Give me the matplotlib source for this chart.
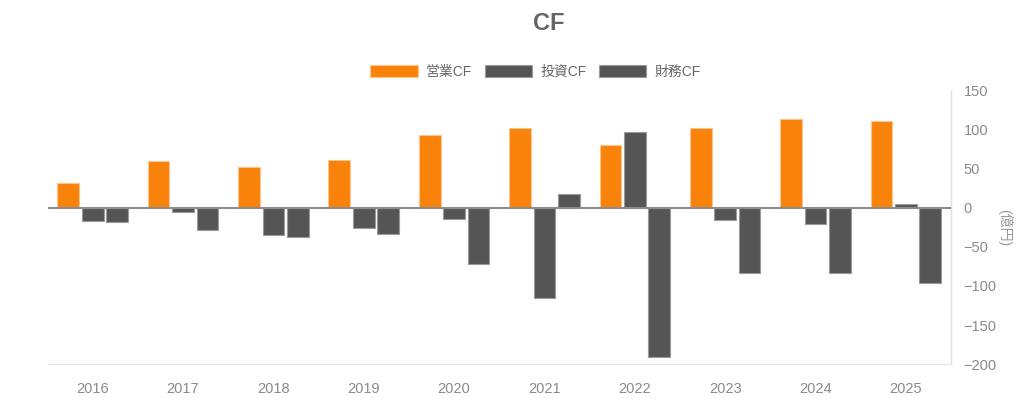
import numpy as np
import matplotlib as mpl
mpl.use("Agg")
import matplotlib.pyplot as plt
from matplotlib.patches import Patch

plt.rcParams["font.family"] = ["Liberation Sans", "Noto Sans CJK JP", "DejaVu Sans"]

YEARS = ["2016", "2017", "2018", "2019", "2020", "2021", "2022", "2023", "2024", "2025"]
OPERATING = [32, 60, 53, 61, 93, 103, 81, 102, 114, 112]
INVESTING = [-17, -5, -35, -26, -14, -116, 97, -16, -20, 5]
FINANCING = [-18, -28, -37, -33, -72, 18, -191, -83, -83, -96]

SERIES = ["営業CF", "投資CF", "財務CF"]
COLORS = {"営業CF": "#F9820B", "投資CF": "#555555", "財務CF": "#555555"}
EDGES = {"営業CF": "#FDC58E", "投資CF": "#9A9A9A", "財務CF": "#9A9A9A"}


def main():
    fig = plt.figure(figsize=(10.24, 3.99), dpi=100)
    ax = fig.add_axes([0.0464, 0.0877, 0.8823, 0.6843])

    x = np.arange(len(YEARS))
    width = 0.24
    pitch = 0.27
    for i, (name, vals) in enumerate(zip(SERIES, [OPERATING, INVESTING, FINANCING])):
        ax.bar(x + (i - 1) * pitch, vals, width=width, color=COLORS[name],
               edgecolor=EDGES[name], linewidth=0.8, zorder=2)

    ax.axhline(0, color="#8C8C8C", linewidth=1.5, zorder=3)

    ax.set_xlim(-0.5, len(YEARS) - 0.5)
    ax.set_ylim(-200, 150)
    ax.set_xticks(x)
    ax.set_xticklabels(YEARS)
    ax.set_yticks(np.arange(-200, 151, 50))

    ax.yaxis.tick_right()
    ax.tick_params(axis="both", length=0, labelsize=10.5, labelcolor="#8A8A8A")
    ax.tick_params(axis="x", pad=13)
    ax.tick_params(axis="y", pad=9)
    for lab in ax.get_yticklabels():
        lab.set_horizontalalignment("left")

    # unit label sits right of the tick labels
    fig.text(1005 / 1024, 0.43, "(億円)", rotation=-90, ha="center", va="center",
             color="#999999", fontsize=10)

    ax.spines["top"].set_visible(False)
    ax.spines["left"].set_visible(False)
    ax.spines["right"].set_color("#E0E0E0")
    ax.spines["bottom"].set_color("#E6E6E6")
    ax.spines["right"].set_linewidth(1.0)
    ax.spines["bottom"].set_linewidth(1.0)

    fig.text(0.536, 0.94, "CF", ha="center", va="center", fontsize=17,
             fontweight="bold", color="#666666")

    handles = [Patch(facecolor=COLORS[s], edgecolor=EDGES[s], linewidth=0.8, label=s) for s in SERIES]
    fig.legend(handles=handles, loc="center", bbox_to_anchor=(0.523, 0.82), ncol=3,
               frameon=False, fontsize=10, labelcolor="#666666",
               handlelength=3.4, handleheight=1.0, handletextpad=0.6, columnspacing=0.9)

    fig.savefig("out.png", dpi=100, facecolor="white")
    plt.close(fig)


if __name__ == "__main__":
    main()
